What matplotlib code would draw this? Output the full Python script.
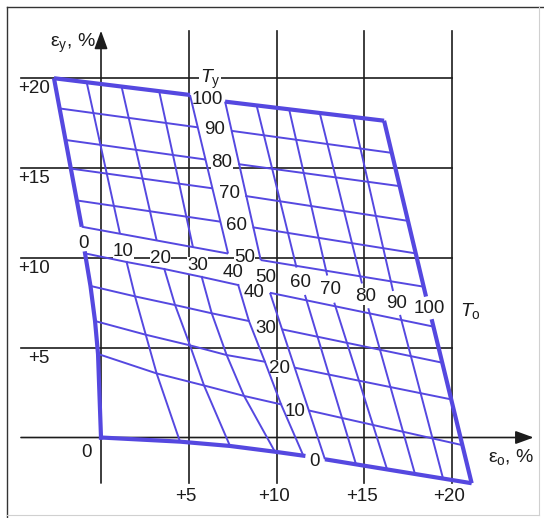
import matplotlib
matplotlib.use('Agg')
import numpy as np
import matplotlib.pyplot as plt
from matplotlib.lines import Line2D

plt.rcParams['font.family'] = ['Liberation Sans', 'DejaVu Sans']
plt.rcParams['mathtext.fontset'] = 'custom'
plt.rcParams['mathtext.rm'] = 'Liberation Sans'
plt.rcParams['mathtext.it'] = 'Liberation Sans:italic'

BLUE = '#5548e0'
INK = '#1c1c1c'
THIN = 1.4
THICK = 3.0
FS = 13.5

# Nomogram: every point is (eps_o, eps_y) in %.
# Panel A: To = 0..40, Ty = 100..50 (upper left)
A_TO = [0, 10, 20, 30, 40]
A_TY = [100, 90, 80, 70, 60, 50]
A_TOP = [(-2.68, 19.96), (-0.81, 19.71), (1.18, 19.46), (3.32, 19.21), (5.07, 19.03)]
A_BOT = [(-1.10, 11.71), (1.08, 11.33), (3.17, 10.95), (5.24, 10.57), (7.24, 10.22)]
A_LEFT = [(-2.68, 19.96), (-2.35, 18.28), (-2.02, 16.53), (-1.72, 14.94), (-1.38, 13.17), (-1.10, 11.71)]
A_RIGHT = [(5.07, 19.03), (5.53, 17.23), (5.98, 15.44), (6.38, 13.84), (6.81, 11.99), (7.24, 10.22)]

# Panel B: To = 50..100, Ty = 100..50 (upper right)
B_TO = [50, 60, 70, 80, 90, 100]
B_TY = [100, 90, 80, 70, 60, 50]
B_TOP = [(7.07, 18.66), (8.87, 18.43), (10.73, 18.19), (12.48, 17.97), (14.38, 17.77), (16.13, 17.60)]
B_BOT = [(9.10, 9.86), (11.14, 9.44), (12.89, 9.00), (14.87, 8.56), (16.64, 8.14), (18.52, 7.83)]
B_LEFT = [(7.07, 18.66), (7.41, 17.04), (7.81, 15.19), (8.22, 13.42), (8.64, 11.68), (9.10, 9.86)]
B_RIGHT = [(16.13, 17.60), (16.52, 15.82), (16.98, 13.97), (17.46, 12.04), (17.92, 10.23), (18.38, 8.38)]

# Panel C: To = 0..40 (columns), Ty = 40..0 (rows), curved lines (lower left)
C_TO = [0, 10, 20, 30, 40]
C_TY = [40, 30, 20, 10, 0]
C_EO = [[-0.91, 1.46, 3.61, 5.74, 7.82],
        [-0.60, 1.94, 4.22, 6.31, 8.43],
        [-0.34, 2.55, 5.07, 7.16, 9.34],
        [-0.17, 3.17, 5.87, 8.15, 10.26],
        [0.00, 4.50, 7.35, 9.91, 11.53]]
C_EY = [[10.23, 9.75, 9.36, 8.92, 8.47],
        [8.42, 7.84, 7.36, 6.90, 6.47],
        [6.47, 5.71, 5.12, 4.58, 4.21],
        [4.64, 3.56, 2.89, 2.31, 1.84],
        [0.00, -0.23, -0.47, -0.79, -1.01]]

# Panel D: To = 50..100, Ty = 40..0 (lower right)
D_TO = [50, 60, 70, 80, 90, 100]
D_TY = [40, 30, 20, 10, 0]
D_TOP = [(9.63, 8.04), (11.62, 7.92), (13.29, 7.49), (15.23, 7.18), (17.04, 6.81), (18.84, 6.57)]
D_BOT = [(12.76, -1.21), (14.53, -1.49), (16.30, -1.77), (17.89, -2.03), (19.49, -2.28), (21.12, -2.54)]
D_LEFT = [(9.63, 8.04), (10.31, 6.01), (11.04, 3.88), (11.85, 1.50), (12.76, -1.21)]
D_RIGHT = [(18.95, 6.16), (19.43, 4.16), (19.94, 2.12), (20.57, -0.42), (21.12, -2.54)]

# Reference grid
GRID_X = [5, 10, 15, 20]
GRID_Y = [5, 10, 15, 20]


def seg(ax, p, q, lw):
    ax.plot([p[0], q[0]], [p[1], q[1]], color=BLUE, lw=lw,
            solid_capstyle='butt', zorder=3)


def draw_panel(ax, top, bot, left, right, thick_to, thick_ty):
    # Ty lines run left -> right, To lines run top -> bottom
    for i, (p, q) in enumerate(zip(left, right)):
        seg(ax, p, q, THICK if i == thick_ty else THIN)
    for j, (p, q) in enumerate(zip(top, bot)):
        seg(ax, p, q, THICK if j == thick_to else THIN)


def draw_grid(ax, eo, ey, thick_to, thick_ty):
    eo = np.array(eo)
    ey = np.array(ey)
    for i in range(eo.shape[0]):
        ax.plot(eo[i], ey[i], color=BLUE, lw=THICK if i == thick_ty else THIN,
                solid_joinstyle='round', zorder=3)
    for j in range(eo.shape[1]):
        ax.plot(eo[:, j], ey[:, j], color=BLUE, lw=THICK if j == thick_to else THIN,
                solid_joinstyle='round', zorder=3)


def label_between(ax, values, first, second, dy):
    # scale values sit in the gap between two neighbouring panels
    for v, p, q in zip(values, first, second):
        ax.text((p[0] + q[0]) / 2, (p[1] + q[1]) / 2 + dy, str(v),
                ha='center', va='center', fontsize=FS, color=INK, zorder=2,
                bbox=dict(fc='white', ec='none', pad=0.1))


def main():
    fig = plt.figure(figsize=(5.44, 5.18), dpi=100)
    ax = fig.add_axes([0, 0, 1, 1])
    ax.set_xlim(-5.755, 25.242)
    ax.set_ylim(-4.472, 24.306)
    ax.axis('off')

    # black reference grid and axes
    for x in GRID_X:
        ax.plot([x, x], [-2.53, 22.58], color=INK, lw=1.2, zorder=1)
    for y in GRID_Y:
        ax.plot([-4.56, 20], [y, y], color=INK, lw=1.2, zorder=1)
    arrow = dict(arrowstyle='-|>,head_length=0.55,head_width=0.2', color=INK,
                 lw=1.2, shrinkA=0, shrinkB=0, mutation_scale=20)
    ax.annotate('', xy=(24.65, 0), xytext=(-4.56, 0), arrowprops=arrow, zorder=1)
    ax.annotate('', xy=(0, 22.6), xytext=(0, -2.53), arrowprops=arrow, zorder=1)

    for t in GRID_X:
        ax.text(t - 0.15, -3.25, f'+{t}', ha='center', va='center', fontsize=FS, color=INK)
    for t in GRID_Y:
        ax.text(-2.91, t - 0.62, f'+{t}', ha='right', va='center', fontsize=FS, color=INK)
    ax.text(-0.8, -0.86, '0', ha='center', va='center', fontsize=FS, color=INK)

    ax.text(-0.28, 21.69, r'$\mathrm{ε}_\mathrm{y}$, %', ha='right', va='baseline',
            fontsize=14, color=INK)
    ax.text(24.67, -1.36, r'$\mathrm{ε}_\mathrm{o}$, %', ha='right', va='baseline',
            fontsize=14, color=INK)
    ax.text(5.63, 19.69, r'$\mathit{T}_\mathrm{y}$', ha='left', va='baseline',
            fontsize=14, color=INK, zorder=2, bbox=dict(fc='white', ec='none', pad=0.5))
    ax.text(20.46, 6.75, r'$\mathit{T}_\mathrm{o}$', ha='left', va='baseline',
            fontsize=14, color=INK)

    # the four nomogram panels
    draw_panel(ax, A_TOP, A_BOT, A_LEFT, A_RIGHT, thick_to=0, thick_ty=0)
    draw_panel(ax, B_TOP, B_BOT, B_LEFT, B_RIGHT, thick_to=len(B_TO) - 1, thick_ty=0)
    draw_grid(ax, C_EO, C_EY, thick_to=0, thick_ty=len(C_TY) - 1)
    draw_panel(ax, D_TOP, D_BOT, D_LEFT, D_RIGHT, thick_to=len(D_TO) - 1,
               thick_ty=len(D_TY) - 1)

    c_top = list(zip(C_EO[0], C_EY[0]))
    c_right = [(row_o[-1], row_y[-1]) for row_o, row_y in zip(C_EO, C_EY)]
    label_between(ax, A_TY, A_RIGHT, B_LEFT, dy=-0.05)
    label_between(ax, A_TO, A_BOT, c_top, dy=-0.2)
    label_between(ax, B_TO, B_BOT, D_TOP, dy=-0.05)
    label_between(ax, C_TY, c_right, D_LEFT, dy=-0.2)

    # picture frame
    fig.add_artist(Line2D([7 / 544, 1], [1 - 7 / 518] * 2, color='#333333', lw=1.0))
    fig.add_artist(Line2D([7 / 544] * 2, [0, 1 - 7 / 518], color='#333333', lw=1.0))
    fig.add_artist(Line2D([539 / 544] * 2, [3 / 518, 1 - 7 / 518], color='#d0d0d0', lw=0.8))
    fig.add_artist(Line2D([7 / 544, 539 / 544], [3 / 518] * 2, color='#d0d0d0', lw=0.8))

    fig.savefig('out.png', dpi=100)


if __name__ == "__main__":
    main()
